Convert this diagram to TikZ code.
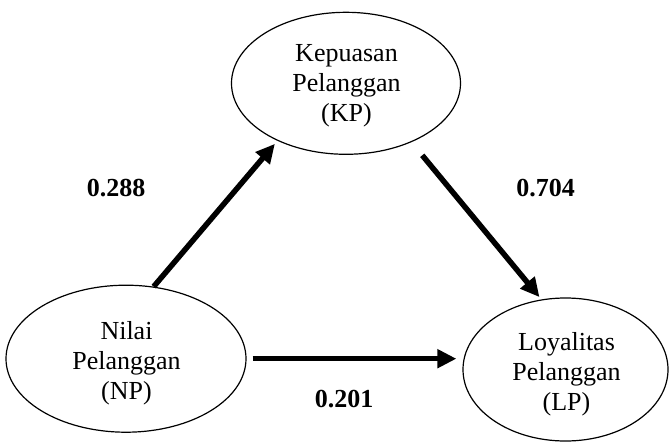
\documentclass[tikz,border=0pt]{standalone}
\usepackage{fontspec}
\setmainfont{Liberation Serif}
\usetikzlibrary{shapes.geometric,arrows.meta}
\begin{document}
\begin{tikzpicture}[x=1pt,y=-1pt,
  var/.style={draw, ellipse, line width=1.2pt, inner sep=0pt},
  vtext/.style={align=center, inner sep=0pt, font=\fontsize{26}{30}\selectfont},
  arr/.style={line width=5.5pt, -{Triangle[length=19pt,width=18pt]}},
  coef/.style={inner sep=0pt, font=\fontsize{26}{30}\selectfont\bfseries}]
\useasboundingbox (0,0) rectangle (669,442);
\clip (0,0) rectangle (669,442);
% ellipses
\node[var, minimum width=229pt, minimum height=142pt] (kp) at (346,83.3) {};
\node[var, minimum width=240pt, minimum height=147pt] (np) at (126,358.7) {};
\node[var, minimum width=205pt, minimum height=143pt] (lp) at (565.5,369.5) {};
% texts
\node[vtext] (kpt) at (346.5,86) {Kepuasan\\Pelanggan\\(KP)};
\node[vtext] (npt) at (126.5,363) {Nilai\\Pelanggan\\(NP)};
\node[vtext] (lpt) at (566.5,374) {Loyalitas\\Pelanggan\\(LP)};
% arrows
\draw[arr, shorten >=4pt] (np.69) -- (kp.220);
\draw[arr, shorten <=17pt, shorten >=3pt] (kp.-42) -- (lp.109);
\draw[arr, shorten <=6pt, shorten >=6pt] (np.east) -- (np.east -| lp.west);
% coefficients
\node[coef] (c1) at (116,188) {0.288};
\node[coef] (c2) at (545.5,188) {0.704};
\node[coef] (c3) at (344,398.7) {0.201};
\end{tikzpicture}
\end{document}
